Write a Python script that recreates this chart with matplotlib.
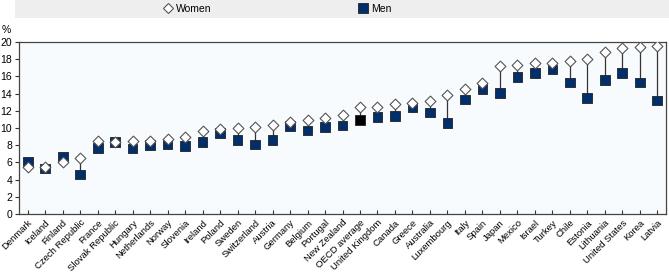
import matplotlib
matplotlib.use("Agg")
import matplotlib.pyplot as plt
from matplotlib.patches import Rectangle
from matplotlib.lines import Line2D
import numpy as np

plt.rcParams['font.family'] = ['Liberation Sans', 'DejaVu Sans']

# data (%)
countries = ["Denmark", "Iceland", "Finland", "Czech Republic", "France", "Slovak Republic",
             "Hungary", "Netherlands", "Norway", "Slovenia", "Ireland", "Poland", "Sweden",
             "Switzerland", "Austria", "Germany", "Belgium", "Portugal", "New Zealand",
             "OECD average", "United Kingdom", "Canada", "Greece", "Australia", "Luxembourg",
             "Italy", "Spain", "Japan", "Mexico", "Israel", "Turkey", "Chile", "Estonia",
             "Lithuania", "United States", "Korea", "Latvia"]
women = [5.5, 5.5, 6.0, 6.5, 8.5, 8.4, 8.5, 8.5, 8.7, 9.0, 9.7, 9.9, 10.0,
         10.1, 10.3, 10.7, 10.9, 11.2, 11.5, 12.4, 12.4, 12.8, 12.9, 13.1, 13.8,
         14.5, 15.2, 17.2, 17.3, 17.6, 17.6, 17.8, 18.0, 18.8, 19.3, 19.4, 19.5]
men = [6.1, 5.3, 6.7, 4.6, 7.7, 8.4, 7.6, 8.0, 8.1, 7.9, 8.4, 9.4, 8.6,
       8.1, 8.6, 10.2, 9.7, 10.1, 10.3, 10.9, 11.3, 11.4, 12.4, 11.8, 10.6,
       13.3, 14.5, 14.1, 15.9, 16.4, 16.8, 15.3, 13.5, 15.6, 16.4, 15.3, 13.2]
yticks = [0, 2, 4, 6, 8, 10, 12, 14, 16, 18, 20]

navy = "#002f6c"
x = np.arange(len(countries))

fig = plt.figure(figsize=(6.69, 2.72), dpi=100)
ax = fig.add_axes([19 / 669, 1 - 214 / 272, 647 / 669, 172 / 272])
ax.set_facecolor("#f8fbfd")

# vertical connectors between the two values
ax.vlines(x, np.minimum(women, men), np.maximum(women, men), color="#333333", lw=0.9, zorder=1)

men_colors = ["black" if c == "OECD average" else navy for c in countries]
ax.scatter(x, men, marker="s", s=48, c=men_colors, edgecolors="#222222", linewidths=0.6, zorder=2)
ax.scatter(x, women, marker="D", s=30, c="white", edgecolors="#555555", linewidths=0.8, zorder=3)

ax.set_xlim(-0.5, len(countries) - 0.5)
ax.set_ylim(0, 20)
ax.set_yticks(yticks)
ax.set_xticks(x)
ax.set_xticklabels(countries, rotation=45, ha="right", rotation_mode="anchor", fontsize=6.8)
ax.tick_params(axis="x", direction="in", length=3, pad=3, color="#333333")
ax.tick_params(axis="y", direction="out", length=3, labelsize=7.5, pad=2, color="#333333")
for s in ax.spines.values():
    s.set_color("#444444")
    s.set_linewidth(0.9)

fig.text(0.002, 1 - 30 / 272, "%", fontsize=7.5, va="center")

# legend band
fig.patches.append(Rectangle((15 / 669, 1 - 18 / 272), 654 / 669, 18 / 272,
                             transform=fig.transFigure, facecolor="#eeeeee", edgecolor="none"))
handles = [Line2D([], [], ls="none", marker="D", ms=5, mfc="white", mec="#555555", mew=0.8),
           Line2D([], [], ls="none", marker="s", ms=7, mfc=navy, mec="#222222", mew=0.6)]
fig.legend(handles, ["Women", "Men"], ncol=2, loc="center", frameon=False,
           bbox_to_anchor=(277 / 669, 1 - 9 / 272), fontsize=7.5,
           columnspacing=14, handlelength=1, handletextpad=0.3)

fig.savefig("out.png", dpi=100)
